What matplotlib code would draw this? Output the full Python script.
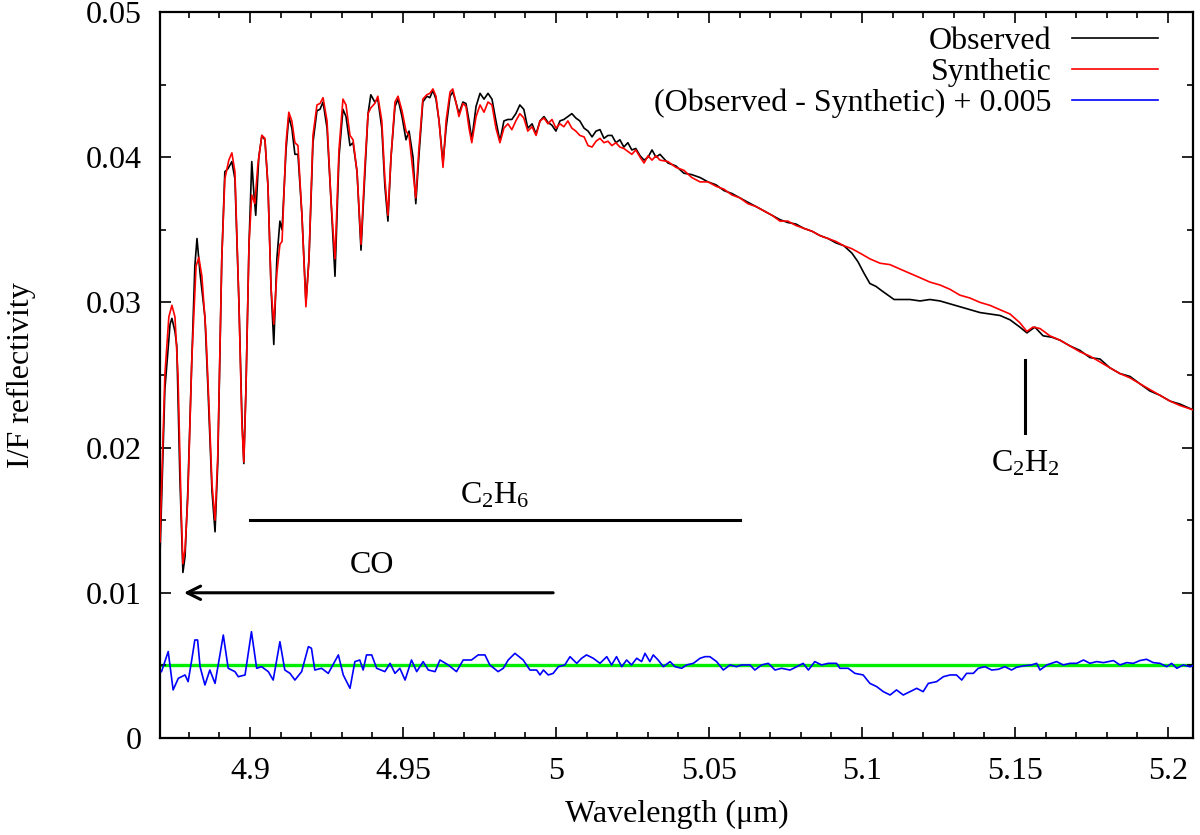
import numpy as np
import matplotlib.pyplot as plt
from matplotlib.ticker import MultipleLocator, FuncFormatter

plt.rcParams['font.family'] = ['Liberation Serif', 'DejaVu Serif']
plt.rcParams['mathtext.fontset'] = 'custom'
plt.rcParams['mathtext.rm'] = 'Liberation Serif'
plt.rcParams['mathtext.it'] = 'Liberation Serif:italic'

# Observed spectrum (wavelength in micron, I/F)
obs_wl = [4.8706, 4.8722, 4.8739, 4.8745, 4.8755, 4.8761, 4.8771, 4.8781, 4.8788, 4.8797,
          4.8810, 4.8820, 4.8827, 4.8837, 4.8853, 4.8863, 4.8876, 4.8886, 4.8895, 4.8908,
          4.8918, 4.8928, 4.8941, 4.8951, 4.8964, 4.8974, 4.8980, 4.8987, 4.8997, 4.9006,
          4.9013, 4.9019, 4.9029, 4.9039, 4.9049, 4.9059, 4.9069, 4.9078, 4.9088, 4.9098,
          4.9105, 4.9118, 4.9127, 4.9137, 4.9147, 4.9157, 4.9170, 4.9183, 4.9193, 4.9206,
          4.9219, 4.9229, 4.9239, 4.9252, 4.9265, 4.9278, 4.9291, 4.9304, 4.9314, 4.9327,
          4.9337, 4.9350, 4.9363, 4.9376, 4.9386, 4.9395, 4.9408, 4.9418, 4.9431, 4.9441,
          4.9451, 4.9461, 4.9474, 4.9484, 4.9497, 4.9510, 4.9520, 4.9533, 4.9542, 4.9552,
          4.9565, 4.9578, 4.9588, 4.9598, 4.9608, 4.9618, 4.9631, 4.9641, 4.9654, 4.9663,
          4.9673, 4.9683, 4.9696, 4.9706, 4.9716, 4.9725, 4.9739, 4.9752, 4.9765, 4.9778,
          4.9791, 4.9804, 4.9817, 4.9830, 4.9843, 4.9856, 4.9869, 4.9882, 4.9895, 4.9908,
          4.9922, 4.9935, 4.9948, 4.9961, 4.9974, 4.9987, 5.0000, 5.0013, 5.0026, 5.0039,
          5.0052, 5.0065, 5.0078, 5.0092, 5.0105, 5.0118, 5.0131, 5.0144, 5.0157, 5.0170,
          5.0183, 5.0196, 5.0209, 5.0222, 5.0235, 5.0248, 5.0261, 5.0275, 5.0288, 5.0301,
          5.0314, 5.0327, 5.0340, 5.0366, 5.0392, 5.0418, 5.0444, 5.0471, 5.0497, 5.0523,
          5.0549, 5.0575, 5.0601, 5.0627, 5.0654, 5.0680, 5.0706, 5.0732, 5.0758, 5.0784,
          5.0810, 5.0837, 5.0863, 5.0889, 5.0915, 5.0941, 5.0967, 5.0987, 5.1007, 5.1026,
          5.1046, 5.1065, 5.1085, 5.1105, 5.1124, 5.1157, 5.1190, 5.1222, 5.1255, 5.1288,
          5.1320, 5.1353, 5.1386, 5.1418, 5.1451, 5.1484, 5.1516, 5.1539, 5.1565, 5.1592,
          5.1621, 5.1647, 5.1680, 5.1712, 5.1745, 5.1778, 5.1810, 5.1843, 5.1876, 5.1908,
          5.1941, 5.1974, 5.2007, 5.2039, 5.2082]
obs_if = [0.0125, 0.0240, 0.0285, 0.0289, 0.0280, 0.0270, 0.0180, 0.0114, 0.0125, 0.0170,
          0.0260, 0.0325, 0.0344, 0.0320, 0.0290, 0.0240, 0.0170, 0.0142, 0.0190, 0.0330,
          0.0390, 0.0392, 0.0397, 0.0385, 0.0300, 0.0220, 0.0189, 0.0240, 0.0340, 0.0397,
          0.0375, 0.0360, 0.0400, 0.0415, 0.0412, 0.0380, 0.0310, 0.0271, 0.0330, 0.0356,
          0.0350, 0.0405, 0.0428, 0.0420, 0.0402, 0.0402, 0.0360, 0.0300, 0.0330, 0.0410,
          0.0432, 0.0433, 0.0438, 0.0420, 0.0370, 0.0318, 0.0400, 0.0433, 0.0428, 0.0408,
          0.0410, 0.0390, 0.0336, 0.0390, 0.0430, 0.0443, 0.0438, 0.0440, 0.0420, 0.0380,
          0.0356, 0.0400, 0.0435, 0.0440, 0.0428, 0.0412, 0.0418, 0.0400, 0.0368, 0.0400,
          0.0438, 0.0442, 0.0441, 0.0446, 0.0440, 0.0425, 0.0396, 0.0420, 0.0442, 0.0445,
          0.0438, 0.0430, 0.0438, 0.0437, 0.0425, 0.0412, 0.0435, 0.0444, 0.0440, 0.0444,
          0.0440, 0.0425, 0.0411, 0.0425, 0.0426, 0.0426, 0.0430, 0.0436, 0.0433, 0.0420,
          0.0423, 0.0416, 0.0425, 0.0428, 0.0424, 0.0422, 0.0418, 0.0425, 0.0426, 0.0428,
          0.0430, 0.0427, 0.0425, 0.0420, 0.0418, 0.0414, 0.0418, 0.0419, 0.0413, 0.0415,
          0.0415, 0.0410, 0.0412, 0.0407, 0.0410, 0.0405, 0.0406, 0.0401, 0.0398, 0.0400,
          0.0405, 0.0400, 0.0402, 0.0396, 0.0394, 0.0389, 0.0388, 0.0386, 0.0383, 0.0381,
          0.0377, 0.0375, 0.0372, 0.0369, 0.0366, 0.0363, 0.0360, 0.0357, 0.0355, 0.0354,
          0.0351, 0.0349, 0.0346, 0.0344, 0.0341, 0.0339, 0.0334, 0.0328, 0.0320, 0.0313,
          0.0311, 0.0308, 0.0305, 0.0302, 0.0302, 0.0302, 0.0301, 0.0302, 0.0301, 0.0299,
          0.0297, 0.0295, 0.0293, 0.0292, 0.0291, 0.0288, 0.0283, 0.0279, 0.0283, 0.0277,
          0.0276, 0.0274, 0.0270, 0.0267, 0.0262, 0.0261, 0.0255, 0.0251, 0.0249, 0.0244,
          0.0239, 0.0236, 0.0232, 0.0230, 0.0226]

# Synthetic spectrum
syn_wl = [4.8706, 4.8722, 4.8735, 4.8745, 4.8755, 4.8765, 4.8775, 4.8781, 4.8788, 4.8797,
          4.8810, 4.8824, 4.8833, 4.8843, 4.8856, 4.8866, 4.8876, 4.8886, 4.8895, 4.8908,
          4.8918, 4.8931, 4.8941, 4.8951, 4.8964, 4.8974, 4.8980, 4.8987, 4.8997, 4.9006,
          4.9016, 4.9026, 4.9039, 4.9049, 4.9059, 4.9069, 4.9078, 4.9088, 4.9098, 4.9105,
          4.9118, 4.9127, 4.9137, 4.9147, 4.9157, 4.9170, 4.9183, 4.9193, 4.9206, 4.9219,
          4.9229, 4.9239, 4.9252, 4.9265, 4.9278, 4.9291, 4.9304, 4.9314, 4.9327, 4.9337,
          4.9350, 4.9363, 4.9376, 4.9386, 4.9395, 4.9408, 4.9418, 4.9431, 4.9441, 4.9451,
          4.9461, 4.9474, 4.9484, 4.9497, 4.9510, 4.9520, 4.9533, 4.9542, 4.9552, 4.9565,
          4.9578, 4.9588, 4.9598, 4.9608, 4.9618, 4.9631, 4.9641, 4.9654, 4.9663, 4.9673,
          4.9683, 4.9696, 4.9706, 4.9716, 4.9725, 4.9739, 4.9752, 4.9765, 4.9778, 4.9791,
          4.9804, 4.9817, 4.9830, 4.9843, 4.9856, 4.9869, 4.9882, 4.9895, 4.9908, 4.9922,
          4.9935, 4.9948, 4.9961, 4.9974, 4.9987, 5.0000, 5.0013, 5.0026, 5.0039, 5.0052,
          5.0065, 5.0078, 5.0092, 5.0105, 5.0118, 5.0131, 5.0144, 5.0157, 5.0170, 5.0183,
          5.0196, 5.0209, 5.0222, 5.0235, 5.0248, 5.0261, 5.0275, 5.0288, 5.0301, 5.0314,
          5.0327, 5.0340, 5.0366, 5.0392, 5.0418, 5.0444, 5.0471, 5.0497, 5.0523, 5.0549,
          5.0575, 5.0601, 5.0627, 5.0654, 5.0680, 5.0706, 5.0732, 5.0758, 5.0784, 5.0810,
          5.0837, 5.0863, 5.0889, 5.0915, 5.0941, 5.0967, 5.0993, 5.1026, 5.1059, 5.1092,
          5.1124, 5.1157, 5.1190, 5.1222, 5.1255, 5.1288, 5.1320, 5.1353, 5.1386, 5.1418,
          5.1451, 5.1484, 5.1516, 5.1539, 5.1559, 5.1582, 5.1614, 5.1647, 5.1680, 5.1712,
          5.1745, 5.1778, 5.1810, 5.1843, 5.1876, 5.1908, 5.1941, 5.1974, 5.2007, 5.2039,
          5.2082]
syn_if = [0.0135, 0.0250, 0.0290, 0.0298, 0.0290, 0.0250, 0.0160, 0.0120, 0.0130, 0.0165,
          0.0260, 0.0325, 0.0331, 0.0318, 0.0280, 0.0230, 0.0175, 0.0150, 0.0195, 0.0330,
          0.0385, 0.0398, 0.0403, 0.0390, 0.0300, 0.0215, 0.0190, 0.0240, 0.0340, 0.0374,
          0.0368, 0.0395, 0.0415, 0.0413, 0.0380, 0.0310, 0.0285, 0.0320, 0.0340, 0.0342,
          0.0410, 0.0431, 0.0425, 0.0410, 0.0408, 0.0360, 0.0297, 0.0330, 0.0415, 0.0436,
          0.0437, 0.0441, 0.0425, 0.0370, 0.0330, 0.0405, 0.0440, 0.0436, 0.0415, 0.0412,
          0.0390, 0.0340, 0.0395, 0.0430, 0.0434, 0.0437, 0.0442, 0.0425, 0.0385, 0.0360,
          0.0400, 0.0438, 0.0442, 0.0432, 0.0418, 0.0415, 0.0390, 0.0372, 0.0405, 0.0440,
          0.0443, 0.0444, 0.0447, 0.0442, 0.0425, 0.0393, 0.0425, 0.0445, 0.0447, 0.0438,
          0.0428, 0.0437, 0.0435, 0.0420, 0.0410, 0.0428, 0.0436, 0.0431, 0.0438, 0.0436,
          0.0420, 0.0410, 0.0420, 0.0423, 0.0419, 0.0425, 0.0430, 0.0427, 0.0418, 0.0421,
          0.0415, 0.0425, 0.0427, 0.0423, 0.0426, 0.0420, 0.0423, 0.0421, 0.0425, 0.0420,
          0.0418, 0.0415, 0.0414, 0.0408, 0.0407, 0.0411, 0.0413, 0.0410, 0.0411, 0.0408,
          0.0410, 0.0407, 0.0406, 0.0404, 0.0402, 0.0405, 0.0400, 0.0396, 0.0401, 0.0398,
          0.0401, 0.0398, 0.0397, 0.0393, 0.0391, 0.0386, 0.0383, 0.0383, 0.0380, 0.0378,
          0.0374, 0.0372, 0.0368, 0.0366, 0.0363, 0.0360, 0.0356, 0.0356, 0.0353, 0.0351,
          0.0349, 0.0346, 0.0344, 0.0342, 0.0339, 0.0337, 0.0334, 0.0330, 0.0327, 0.0326,
          0.0323, 0.0320, 0.0317, 0.0314, 0.0312, 0.0309, 0.0305, 0.0303, 0.0300, 0.0298,
          0.0295, 0.0292, 0.0286, 0.0280, 0.0283, 0.0282, 0.0277, 0.0274, 0.0270, 0.0266,
          0.0263, 0.0259, 0.0255, 0.0251, 0.0248, 0.0244, 0.0240, 0.0236, 0.0232, 0.0229,
          0.0226]

# (Observed - Synthetic) + 0.005
res_wl = [4.8711, 4.8733, 4.8749, 4.8766, 4.8788, 4.8798, 4.8809, 4.8820, 4.8829, 4.8837,
          4.8853, 4.8869, 4.8886, 4.8913, 4.8929, 4.8951, 4.8962, 4.8984, 4.9005, 4.9022,
          4.9038, 4.9060, 4.9076, 4.9098, 4.9114, 4.9131, 4.9147, 4.9169, 4.9191, 4.9201,
          4.9212, 4.9234, 4.9256, 4.9289, 4.9305, 4.9327, 4.9343, 4.9359, 4.9370, 4.9381,
          4.9398, 4.9414, 4.9441, 4.9458, 4.9474, 4.9490, 4.9507, 4.9528, 4.9545, 4.9566,
          4.9583, 4.9605, 4.9621, 4.9648, 4.9675, 4.9697, 4.9724, 4.9746, 4.9768, 4.9784,
          4.9811, 4.9828, 4.9844, 4.9866, 4.9893, 4.9915, 4.9937, 4.9948, 4.9959, 4.9975,
          4.9991, 5.0008, 5.0029, 5.0046, 5.0068, 5.0084, 5.0100, 5.0122, 5.0144, 5.0166,
          5.0182, 5.0198, 5.0215, 5.0231, 5.0247, 5.0264, 5.0280, 5.0291, 5.0307, 5.0318,
          5.0334, 5.0351, 5.0373, 5.0389, 5.0411, 5.0427, 5.0449, 5.0471, 5.0487, 5.0503,
          5.0525, 5.0547, 5.0569, 5.0590, 5.0607, 5.0634, 5.0650, 5.0672, 5.0694, 5.0716,
          5.0737, 5.0765, 5.0787, 5.0808, 5.0825, 5.0846, 5.0868, 5.0890, 5.0917, 5.0928,
          5.0955, 5.0977, 5.1004, 5.1026, 5.1048, 5.1070, 5.1092, 5.1113, 5.1135, 5.1157,
          5.1179, 5.1200, 5.1217, 5.1244, 5.1266, 5.1288, 5.1309, 5.1326, 5.1342, 5.1364,
          5.1380, 5.1402, 5.1424, 5.1446, 5.1467, 5.1489, 5.1505, 5.1527, 5.1554, 5.1571,
          5.1582, 5.1604, 5.1636, 5.1658, 5.1680, 5.1702, 5.1724, 5.1745, 5.1767, 5.1789,
          5.1822, 5.1843, 5.1865, 5.1887, 5.1908, 5.1930, 5.1952, 5.1974, 5.1996, 5.2012,
          5.2029, 5.2050, 5.2072, 5.2088]
res_if = [0.00457, 0.00595, 0.00331, 0.00411, 0.00434, 0.00388, 0.00526, 0.00675, 0.00675, 0.00491,
          0.00365, 0.00468, 0.00376, 0.00709, 0.00480, 0.00457, 0.00422, 0.00434, 0.00732, 0.00480,
          0.00491, 0.00457, 0.00399, 0.00663, 0.00468, 0.00445, 0.00399, 0.00457, 0.00629, 0.00618,
          0.00468, 0.00480, 0.00445, 0.00572, 0.00434, 0.00342, 0.00526, 0.00537, 0.00468, 0.00572,
          0.00572, 0.00480, 0.00457, 0.00514, 0.00445, 0.00480, 0.00399, 0.00537, 0.00457, 0.00526,
          0.00468, 0.00457, 0.00537, 0.00503, 0.00457, 0.00537, 0.00537, 0.00572, 0.00572, 0.00503,
          0.00457, 0.00480, 0.00537, 0.00583, 0.00537, 0.00468, 0.00468, 0.00434, 0.00468, 0.00434,
          0.00445, 0.00491, 0.00503, 0.00560, 0.00514, 0.00549, 0.00572, 0.00549, 0.00514, 0.00560,
          0.00503, 0.00560, 0.00491, 0.00537, 0.00503, 0.00549, 0.00526, 0.00583, 0.00526, 0.00572,
          0.00537, 0.00491, 0.00526, 0.00491, 0.00480, 0.00503, 0.00514, 0.00549, 0.00560, 0.00560,
          0.00526, 0.00468, 0.00503, 0.00491, 0.00503, 0.00503, 0.00468, 0.00503, 0.00514, 0.00468,
          0.00480, 0.00468, 0.00491, 0.00514, 0.00468, 0.00526, 0.00503, 0.00514, 0.00514, 0.00480,
          0.00480, 0.00445, 0.00434, 0.00376, 0.00354, 0.00319, 0.00296, 0.00331, 0.00296, 0.00319,
          0.00342, 0.00319, 0.00376, 0.00388, 0.00422, 0.00434, 0.00434, 0.00399, 0.00445, 0.00445,
          0.00480, 0.00491, 0.00468, 0.00473, 0.00491, 0.00468, 0.00487, 0.00496, 0.00503, 0.00514,
          0.00468, 0.00503, 0.00526, 0.00503, 0.00514, 0.00514, 0.00537, 0.00514, 0.00526, 0.00519,
          0.00533, 0.00503, 0.00519, 0.00514, 0.00533, 0.00542, 0.00519, 0.00514, 0.00491, 0.00514,
          0.00480, 0.00503, 0.00491, 0.00503]

fs = 23

fig = plt.figure(figsize=(12, 8.35), dpi=100)
ax = fig.add_axes([0.1333, 0.1162, 0.8609, 0.8694])

ax.axhline(0.005, color='#00ee00', lw=2.4, zorder=1)
ax.plot(obs_wl, obs_if, color='black', lw=1.2, label='Observed', zorder=3)
ax.plot(syn_wl, syn_if, color='red', lw=1.2, label='Synthetic', zorder=4)
ax.plot(res_wl, res_if, color='blue', lw=1.2, label='(Observed - Synthetic) + 0.005', zorder=3)

# band annotations
ax.plot([4.9, 5.06], [0.015, 0.015], color='black', lw=2.2)
ax.text(4.98, 0.0157, 'C$_2$H$_6$', ha='center', va='bottom', fontsize=fs)
ax.annotate('', xy=(4.8775, 0.01), xytext=(5.0, 0.01),
            arrowprops=dict(arrowstyle='->', color='black', lw=2.2, mutation_scale=24))
ax.text(4.940, 0.0109, 'CO', ha='center', va='bottom', fontsize=fs)
ax.plot([5.1533, 5.1533], [0.021, 0.026], color='black', lw=2.2)
ax.text(5.1533, 0.0189, 'C$_2$H$_2$', ha='center', va='center', fontsize=fs)

ax.set_xlim(4.8706, 5.2082)
ax.set_ylim(0, 0.05)
ax.xaxis.set_major_locator(MultipleLocator(0.05))
ax.xaxis.set_minor_locator(MultipleLocator(0.01))
ax.yaxis.set_major_locator(MultipleLocator(0.01))
ax.yaxis.set_minor_locator(MultipleLocator(0.005))
ax.xaxis.set_major_formatter(FuncFormatter(lambda v, p: ('%.2f' % v).rstrip('0').rstrip('.')))
ax.yaxis.set_major_formatter(FuncFormatter(lambda v, p: ('%.2f' % v).rstrip('0').rstrip('.')))
ax.tick_params(which='both', direction='in', top=True, right=True, labelsize=fs, width=1.2)
ax.tick_params(which='major', length=8)
ax.tick_params(which='minor', length=4)
ax.tick_params(axis='x', which='major', pad=14)
ax.tick_params(axis='y', which='major', pad=13)
for s in ax.spines.values():
    s.set_linewidth(1.6)

ax.set_xlabel('Wavelength (\u03bcm)', fontsize=fs, labelpad=10)
ax.set_ylabel('I/F reflectivity', fontsize=fs)
ax.yaxis.label.set_va('center')
ax.yaxis.set_label_coords(-0.134, 0.5)

ax.legend(loc='upper right', frameon=False, markerfirst=False, fontsize=fs,
          handlelength=2.7, handletextpad=0.63, labelspacing=0.05,
          borderaxespad=0, borderpad=0, bbox_to_anchor=(0.966, 0.98))

fig.savefig('out.png', dpi=100)
